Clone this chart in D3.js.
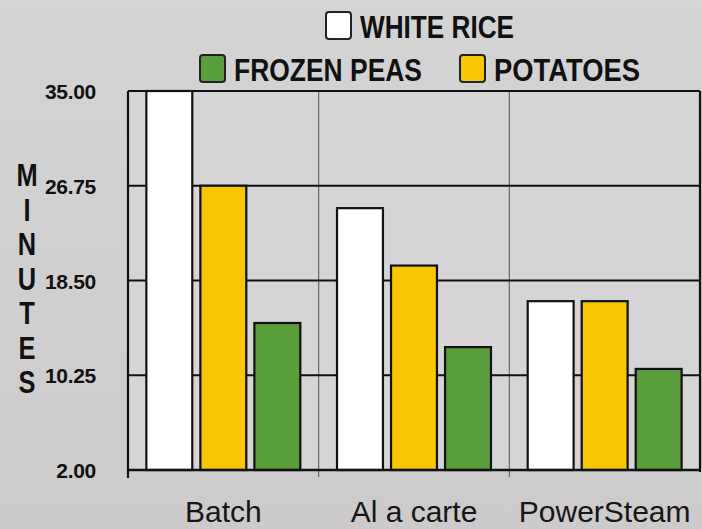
<!DOCTYPE html>
<html>
<head>
<meta charset="utf-8">
<script src="https://cdn.jsdelivr.net/npm/d3@7"></script>
<style>
  body { margin: 0; background: #d2d1d2; }
  svg { display: block; }
</style>
</head>
<body>
<script>
// data
var methods = ["Batch", "Al a carte", "PowerSteam"];
var series = ["WHITE RICE", "POTATOES", "FROZEN PEAS"];
var whiteRice = [35.0, 24.8, 16.7];
var potatoes = [26.75, 19.8, 16.7];
var frozenPeas = [14.8, 12.7, 10.8];
var yTicks = [2.00, 10.25, 18.50, 26.75, 35.00];
var axisTitle = "MINUTES";

var colors = { "WHITE RICE": "#ffffff",
               "POTATOES": "#f8c602",
               "FROZEN PEAS": "#5a9e3b" };

var width = 702;
var height = 529;
var margin = {top: 91, right: 2, bottom: 59, left: 128};

var table = methods.map(function(m, i){
  return { method: m, values: [
    { key: "WHITE RICE", value: whiteRice[i] },
    { key: "POTATOES", value: potatoes[i] },
    { key: "FROZEN PEAS", value: frozenPeas[i] } ] };
});

var svg = d3.select("body")
  .append("svg")
  .attr("width", width)
  .attr("height", height);

// background
var defs = svg.append("defs");
var bg = defs.append("linearGradient")
  .attr("id", "bg")
  .attr("x1", 0).attr("y1", 0).attr("x2", 0).attr("y2", 1);
bg.append("stop").attr("offset", "0%").attr("stop-color", "#d4d4d5");
bg.append("stop").attr("offset", "100%").attr("stop-color", "#cdcacb");

svg.append("rect")
  .attr("width", width)
  .attr("height", height)
  .style("fill", "url(#bg)");

// scales
var x0 = d3.scaleBand()
  .domain(methods)
  .range([margin.left, width - margin.right]);

var x1 = d3.scaleBand()
  .domain(series)
  .range([0, x0.bandwidth()])
  .paddingInner(0.15)
  .paddingOuter(0.34);

var y = d3.scaleLinear()
  .domain([2, 35])
  .range([height - margin.bottom, margin.top]);

var plotLeft = margin.left, plotRight = width - margin.right;
var plotTop = y(35), plotBottom = y(2);

svg.append("rect")
  .attr("x", plotLeft)
  .attr("y", plotTop)
  .attr("width", plotRight - plotLeft)
  .attr("height", plotBottom - plotTop)
  .style("fill", "#d6d4d6");

// vertical separators between categories
svg.append("g")
  .selectAll("line")
  .data(methods.slice(1))
  .enter()
  .append("line")
  .attr("x1", d => x0(d))
  .attr("x2", d => x0(d))
  .attr("y1", plotTop)
  .attr("y2", plotBottom + 7)
  .style("stroke", "#6a6a6a")
  .style("stroke-width", 1.2);

// horizontal grid
svg.append("g")
  .selectAll("line")
  .data(yTicks.slice(1))
  .enter()
  .append("line")
  .attr("x1", plotLeft)
  .attr("x2", plotRight)
  .attr("y1", d => y(d))
  .attr("y2", d => y(d))
  .style("stroke", "#111")
  .style("stroke-width", 2);

// bars
var groups = svg.append("g")
  .selectAll("g")
  .data(table)
  .enter()
  .append("g")
  .attr("transform", d => `translate(${x0(d.method)},0)`);

groups.selectAll("rect")
  .data(d => d.values)
  .enter()
  .append("rect")
  .attr("x", d => x1(d.key))
  .attr("y", d => y(d.value))
  .attr("width", x1.bandwidth())
  .attr("height", d => y(2) - y(d.value))
  .style("fill", d => colors[d.key])
  .style("stroke", "#111")
  .style("stroke-width", 2.2);

// frame
svg.append("line")
  .attr("x1", plotLeft).attr("x2", plotLeft)
  .attr("y1", plotTop).attr("y2", plotBottom + 8)
  .style("stroke", "#111").style("stroke-width", 2.2);
svg.append("line")
  .attr("x1", plotRight).attr("x2", plotRight)
  .attr("y1", plotTop).attr("y2", plotBottom + 2)
  .style("stroke", "#111").style("stroke-width", 2.2);
svg.append("line")
  .attr("x1", plotLeft).attr("x2", plotRight)
  .attr("y1", plotBottom).attr("y2", plotBottom)
  .style("stroke", "#111").style("stroke-width", 2.6);

// y axis labels
var yAxis = g => g
  .attr("transform", `translate(${plotLeft},0)`)
  .call(d3.axisLeft(y)
    .tickValues(yTicks)
    .tickSize(0)
    .tickPadding(32)
    .tickFormat(d3.format(".2f")))
  .call(g => g.select(".domain").remove())
  .call(g => g.selectAll("text")
    .attr("dy", "0.36em")
    .style("font-family", "'Liberation Sans', Arial, sans-serif")
    .style("font-weight", "bold")
    .style("font-size", "21px")
    .style("letter-spacing", "-0.3px")
    .style("fill", "#111"));

svg.append("g").call(yAxis);

// x labels
svg.append("g")
  .selectAll("text")
  .data(methods)
  .enter()
  .append("text")
  .attr("x", d => x0(d) + x0.bandwidth() / 2)
  .attr("y", 522)
  .attr("text-anchor", "middle")
  .style("font-family", "'Liberation Sans', Arial, sans-serif")
  .style("font-size", "30px")
  .style("fill", "#161616")
  .text(d => d);

// vertical axis title, one letter per line (narrowed)
svg.append("g")
  .selectAll("text")
  .data(axisTitle.split(""))
  .enter()
  .append("text")
  .attr("transform", (d, i) => `translate(27,${175 + i * 34.5}) scale(0.82,1)`)
  .attr("dy", "0.36em")
  .attr("text-anchor", "middle")
  .style("font-family", "'Liberation Sans', Arial, sans-serif")
  .style("font-weight", "bold")
  .style("font-size", "31px")
  .style("fill", "#111")
  .text(d => d);

// legend
var legend = [
  { key: "WHITE RICE", x: 325, y: 11, w: 154 },
  { key: "FROZEN PEAS", x: 199, y: 54, w: 188 },
  { key: "POTATOES", x: 459, y: 54, w: 146 }
];

var lg = svg.append("g")
  .selectAll("g")
  .data(legend)
  .enter()
  .append("g")
  .attr("transform", d => `translate(${d.x},${d.y})`);

lg.append("rect")
  .attr("x", 1)
  .attr("y", 1)
  .attr("width", 25)
  .attr("height", 27)
  .attr("rx", 3)
  .style("fill", d => colors[d.key])
  .style("stroke", "#222")
  .style("stroke-width", 2);

lg.append("text")
  .attr("x", 35)
  .attr("y", 27)
  .attr("textLength", d => d.w)
  .attr("lengthAdjust", "spacingAndGlyphs")
  .style("font-family", "'Liberation Sans', Arial, sans-serif")
  .style("font-weight", "bold")
  .style("font-size", "31px")
  .style("fill", "#111")
  .text(d => d.key);
</script>
</body>
</html>
